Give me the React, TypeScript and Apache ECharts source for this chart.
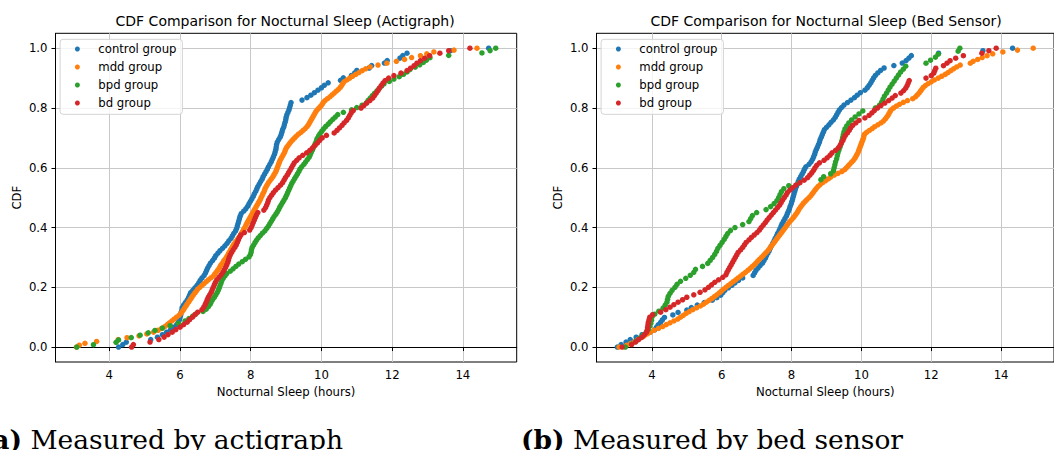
import React, { useEffect, useRef } from "react";
import * as echarts from "echarts";

// ---------- data (sleep hours per subject-night) ----------
const GROUP_NAMES = ["control group", "mdd group", "bpd group", "bd group"];
const GROUP_COLORS = ["#1f77b4", "#ff7f0e", "#2ca02c", "#d62728"];
const PANEL_TITLES = [
  "CDF Comparison for Nocturnal Sleep (Actigraph)",
  "CDF Comparison for Nocturnal Sleep (Bed Sensor)",
];
const X_AXIS_NAME = "Nocturnal Sleep (hours)";
const Y_AXIS_NAME = "CDF";
const CAPTIONS = [
  ["(a)", " Measured by actigraph"],
  ["(b)", " Measured by bed sensor"],
];
const Y_TICKS = [0, 0.2, 0.4, 0.6, 0.8, 1.0];

// Actigraph
const controlActi = [
  4.26, 4.38, 4.48, 5.17, 5.36, 5.5, 5.62, 5.73, 5.8, 5.9,
  5.95, 5.98, 6.0, 6.02, 6.03, 6.05, 6.06, 6.1, 6.15, 6.2,
  6.24, 6.27, 6.3, 6.36, 6.42, 6.48, 6.53, 6.57, 6.62, 6.68,
  6.72, 6.75, 6.78, 6.82, 6.86, 6.92, 6.97, 7.01, 7.07, 7.13,
  7.2, 7.27, 7.33, 7.38, 7.44, 7.48, 7.52, 7.57, 7.6, 7.62,
  7.64, 7.66, 7.68, 7.7, 7.73, 7.8, 7.86, 7.91, 7.95, 7.99,
  8.03, 8.07, 8.1, 8.14, 8.17, 8.2, 8.24, 8.28, 8.32, 8.35,
  8.39, 8.43, 8.47, 8.5, 8.54, 8.58, 8.61, 8.64, 8.67, 8.69,
  8.71, 8.72, 8.73, 8.75, 8.79, 8.83, 8.86, 8.88, 8.9, 8.93,
  8.95, 8.97, 8.99, 9.0, 9.02, 9.05, 9.08, 9.1, 9.12, 9.14,
  9.45, 9.59, 9.7, 9.8, 9.9, 10.0, 10.08, 10.19, 10.54, 10.62,
  10.85, 10.94, 11.0, 11.35, 11.42, 11.78, 11.86, 12.22, 12.3, 12.42,
  13.65, 14.73,
];
const mddActi = [
  3.07, 3.15, 3.31, 3.64, 4.25, 4.5, 4.84, 5.06, 5.25, 5.38,
  5.48, 5.57, 5.64, 5.7, 5.77, 5.83, 5.9, 5.97, 6.02, 6.06,
  6.1, 6.13, 6.17, 6.2, 6.24, 6.27, 6.31, 6.34, 6.38, 6.42,
  6.46, 6.5, 6.56, 6.62, 6.68, 6.74, 6.8, 6.87, 6.94, 6.98,
  7.02, 7.06, 7.1, 7.13, 7.16, 7.2, 7.23, 7.27, 7.31, 7.34,
  7.37, 7.4, 7.43, 7.46, 7.49, 7.52, 7.56, 7.6, 7.64, 7.68,
  7.71, 7.74, 7.77, 7.8, 7.83, 7.86, 7.88, 7.91, 7.94, 7.97,
  8.0, 8.03, 8.06, 8.09, 8.12, 8.15, 8.18, 8.21, 8.24, 8.27,
  8.29, 8.32, 8.34, 8.37, 8.39, 8.41, 8.44, 8.47, 8.5, 8.54,
  8.58, 8.62, 8.65, 8.68, 8.71, 8.73, 8.75, 8.77, 8.79, 8.81,
  8.83, 8.86, 8.89, 8.92, 8.95, 8.97, 8.99, 9.02, 9.06, 9.1,
  9.14, 9.19, 9.24, 9.29, 9.35, 9.42, 9.48, 9.54, 9.59, 9.63,
  9.66, 9.69, 9.72, 9.75, 9.78, 9.81, 9.84, 9.88, 9.93, 9.98,
  10.02, 10.05, 10.1, 10.17, 10.24, 10.3, 10.36, 10.42, 10.48, 10.53,
  10.57, 10.6, 10.64, 10.72, 10.8, 10.88, 10.97, 11.06, 11.15, 11.25,
  11.38, 11.6, 11.85, 12.12, 12.35, 12.55, 12.8, 12.98, 13.18, 13.75,
  14.4,
];
const bpdActi = [
  3.08, 3.55, 4.19, 4.26, 4.62, 4.87, 5.1, 5.29, 5.5, 5.72,
  5.95, 6.14, 6.25, 6.36, 6.45, 6.65, 6.74, 6.8, 6.85, 6.88,
  6.92, 6.97, 7.01, 7.05, 7.08, 7.11, 7.13, 7.16, 7.18, 7.22,
  7.27, 7.32, 7.42, 7.5, 7.58, 7.66, 7.76, 7.85, 7.95, 7.99,
  8.01, 8.02, 8.04, 8.08, 8.12, 8.16, 8.21, 8.27, 8.33, 8.4,
  8.45, 8.5, 8.54, 8.58, 8.62, 8.66, 8.71, 8.75, 8.79, 8.82,
  8.86, 8.9, 8.94, 8.98, 9.01, 9.04, 9.07, 9.1, 9.13, 9.16,
  9.2, 9.24, 9.28, 9.32, 9.36, 9.39, 9.44, 9.5, 9.55, 9.6,
  9.65, 9.68, 9.71, 9.74, 9.77, 9.8, 9.83, 9.86, 9.88, 9.92,
  9.96, 10.01, 10.06, 10.12, 10.19, 10.25, 10.32, 10.39, 10.46, 10.62,
  10.85, 11.0, 11.15, 11.27, 11.32, 11.38, 11.44, 11.5, 11.57, 11.63,
  11.7, 11.77, 11.92, 12.05, 12.2, 12.32, 12.42, 12.5, 12.65, 12.78,
  12.88, 12.97, 13.07, 13.6, 14.54, 14.77, 14.93,
];
const bdActi = [
  4.63, 4.68, 5.15, 5.4, 5.55, 5.66, 5.78, 5.88, 6.0, 6.1,
  6.2, 6.27, 6.35, 6.42, 6.5, 6.62, 6.67, 6.71, 6.74, 6.77,
  6.8, 6.84, 6.88, 6.91, 6.94, 6.97, 7.0, 7.04, 7.1, 7.16,
  7.21, 7.25, 7.29, 7.32, 7.35, 7.37, 7.39, 7.42, 7.46, 7.5,
  7.55, 7.59, 7.62, 7.65, 7.68, 7.72, 7.82, 7.97, 8.01, 8.04,
  8.07, 8.1, 8.13, 8.16, 8.2, 8.37, 8.42, 8.45, 8.48, 8.5,
  8.54, 8.59, 8.64, 8.7, 8.77, 8.84, 8.9, 8.94, 8.98, 9.03,
  9.07, 9.11, 9.15, 9.19, 9.23, 9.3, 9.37, 9.47, 9.58, 9.67,
  9.75, 9.82, 9.89, 9.95, 10.02, 10.14, 10.36, 10.44, 10.51, 10.58,
  10.64, 10.71, 10.76, 10.8, 10.84, 10.9, 11.12, 11.2, 11.28, 11.37,
  11.45, 11.5, 11.55, 11.6, 11.64, 11.69, 11.74, 11.8, 11.9, 12.05,
  12.25, 12.42, 12.52, 12.62, 12.7, 12.8, 12.92, 13.06, 13.35, 13.6,
  14.2,
];

// Bed sensor
const controlBed = [
  3.01, 3.12, 3.26, 3.38, 3.55, 3.72, 3.95, 4.08, 4.13, 4.18,
  4.25, 4.3, 4.36, 4.6, 4.75, 5.0, 5.13, 5.3, 5.5, 5.73,
  5.86, 5.97, 6.03, 6.09, 6.19, 6.29, 6.38, 6.48, 6.6, 6.9,
  6.94, 6.98, 7.04, 7.1, 7.17, 7.21, 7.25, 7.28, 7.32, 7.36,
  7.39, 7.42, 7.46, 7.5, 7.53, 7.57, 7.6, 7.64, 7.67, 7.7,
  7.73, 7.77, 7.81, 7.85, 7.88, 7.91, 7.94, 7.96, 7.99, 8.01,
  8.03, 8.05, 8.07, 8.09, 8.11, 8.14, 8.17, 8.19, 8.22, 8.26,
  8.3, 8.34, 8.37, 8.41, 8.5, 8.56, 8.6, 8.63, 8.66, 8.68,
  8.71, 8.74, 8.77, 8.8, 8.82, 8.85, 8.88, 8.91, 8.94, 9.0,
  9.07, 9.13, 9.2, 9.25, 9.29, 9.33, 9.37, 9.43, 9.5, 9.6,
  9.7, 9.8, 9.88, 9.97, 10.1, 10.17, 10.22, 10.27, 10.31, 10.35,
  10.4, 10.47, 10.55, 10.65, 10.93, 11.17, 11.28, 11.36, 11.43, 12.21,
  13.48, 14.33,
];
const mddBed = [
  3.06, 3.28, 3.4, 3.52, 3.6, 3.69, 3.78, 3.87, 3.96, 4.06,
  4.19, 4.31, 4.41, 4.52, 4.63, 4.74, 4.82, 4.9, 4.98, 5.07,
  5.17, 5.28, 5.39, 5.48, 5.56, 5.64, 5.72, 5.79, 5.86, 5.93,
  5.99, 6.05, 6.12, 6.19, 6.26, 6.33, 6.4, 6.47, 6.54, 6.61,
  6.68, 6.75, 6.81, 6.87, 6.93, 6.98, 7.03, 7.08, 7.14, 7.19,
  7.24, 7.29, 7.34, 7.38, 7.42, 7.46, 7.5, 7.54, 7.58, 7.62,
  7.66, 7.7, 7.74, 7.78, 7.82, 7.86, 7.9, 7.94, 7.99, 8.04,
  8.08, 8.12, 8.16, 8.19, 8.22, 8.26, 8.3, 8.34, 8.39, 8.44,
  8.5, 8.55, 8.59, 8.63, 8.67, 8.71, 8.76, 8.82, 8.89, 8.97,
  9.05, 9.12, 9.22, 9.33, 9.44, 9.52, 9.57, 9.62, 9.67, 9.72,
  9.77, 9.81, 9.84, 9.87, 9.9, 9.92, 9.94, 9.96, 9.98, 10.0,
  10.02, 10.04, 10.06, 10.07, 10.09, 10.15, 10.23, 10.31, 10.38, 10.47,
  10.56, 10.63, 10.68, 10.72, 10.76, 10.79, 10.82, 10.85, 10.92, 11.0,
  11.09, 11.2, 11.32, 11.47, 11.55, 11.6, 11.65, 11.69, 11.73, 11.77,
  11.83, 11.91, 12.0, 12.09, 12.2, 12.3, 12.4, 12.48, 12.56, 12.64,
  12.73, 12.83, 13.12, 13.2, 13.33, 13.46, 13.6, 13.76, 14.05, 14.47,
  14.92,
];
const bpdBed = [
  3.24, 3.42, 3.55, 3.65, 3.75, 3.84, 3.9, 3.94, 3.97, 3.99,
  4.0, 4.08, 4.2, 4.32, 4.38, 4.43, 4.45, 4.47, 4.52, 4.58,
  4.66, 4.72, 4.82, 4.97, 5.1, 5.2, 5.25, 5.45, 5.6, 5.67,
  5.74, 5.8, 5.85, 5.89, 5.95, 6.01, 6.07, 6.12, 6.17, 6.25,
  6.38, 6.6, 6.78, 6.83, 6.88, 7.0, 7.27, 7.4, 7.5, 7.58,
  7.63, 7.67, 7.71, 7.78, 7.92, 8.22, 8.84, 8.92, 9.12, 9.2,
  9.22, 9.24, 9.26, 9.29, 9.31, 9.33, 9.36, 9.39, 9.42, 9.44,
  9.46, 9.48, 9.5, 9.53, 9.58, 9.64, 9.72, 9.82, 9.93, 10.04,
  10.4, 10.52, 10.58, 10.62, 10.66, 10.72, 10.77, 10.82, 10.88, 10.94,
  11.0, 11.06, 11.12, 11.2, 11.27, 11.85, 11.98, 12.12, 12.2, 12.77,
  12.82,
];
const bdBed = [
  3.15, 3.42, 3.53, 3.62, 3.72, 3.79, 3.85, 3.87, 3.88, 3.89,
  3.9, 3.92, 3.94, 4.02, 4.25, 4.4, 4.52, 4.63, 4.75, 4.88,
  5.0, 5.2, 5.38, 5.52, 5.62, 5.71, 5.8, 5.91, 6.03, 6.12,
  6.15, 6.19, 6.23, 6.27, 6.31, 6.35, 6.39, 6.43, 6.47, 6.54,
  6.6, 6.65, 6.7, 6.78, 6.85, 6.93, 7.01, 7.08, 7.13, 7.19,
  7.25, 7.3, 7.36, 7.42, 7.48, 7.54, 7.6, 7.66, 7.7, 7.74,
  7.79, 7.84, 7.88, 7.95, 8.03, 8.12, 8.24, 8.36, 8.46, 8.52,
  8.58, 8.63, 8.67, 8.72, 8.8, 8.93, 9.02, 9.1, 9.16, 9.26,
  9.34, 9.39, 9.43, 9.47, 9.5, 9.54, 9.6, 9.65, 9.69, 9.75,
  9.84, 9.93, 10.1, 10.22, 10.3, 10.37, 10.46, 10.56, 10.67, 10.78,
  10.88, 10.97, 11.13, 11.21, 11.27, 11.31, 11.34, 11.37, 11.85, 12.0,
  12.07, 12.1, 12.13, 12.35, 12.45, 12.54, 12.7, 12.92, 13.45, 13.65,
  13.86,
];

const PANELS = [
  [controlActi, mddActi, bpdActi, bdActi],
  [controlBed, mddBed, bpdBed, bdBed],
];

// empirical CDF: sorted values against rank / (n - 1)
function ecdf(values: number[]): number[][] {
  const s = [...values].sort((a, b) => a - b);
  const n = s.length;
  return s.map((v, i) => [v, n > 1 ? i / (n - 1) : 1]);
}

// ---------- layout ----------
const GRIDS = [
  { left: 55.5, top: 33.3, width: 461.2, height: 328.7 },
  { left: 596.5, top: 33.3, width: 461.2, height: 328.7 },
];
const SANS = "'DejaVu Sans', sans-serif";
const SERIF = "'DejaVu Serif', serif";
const FS = 11.7;
const CAPTION_FS = 26.5;

export default function App() {
  const ref = useRef<HTMLDivElement>(null);

  useEffect(() => {
    if (!ref.current) return;
    const chart = echarts.init(ref.current, undefined, { renderer: "svg" });

    const xAxes: any[] = [];
    const yAxes: any[] = [];
    const series: any[] = [];
    const titles: any[] = [];
    const graphics: any[] = [];

    PANELS.forEach((groups, p) => {
      const all = groups.flat();
      const lo = Math.min(...all);
      const hi = Math.max(...all);
      const pad = (hi - lo) * 0.05;
      const xmin = lo - pad;
      const xmax = hi + pad;
      const xticks: number[] = [];
      for (let t = Math.ceil(xmin / 2) * 2; t <= xmax; t += 2) xticks.push(t);

      xAxes.push({
        type: "value",
        gridIndex: p,
        min: xmin,
        max: xmax,
        name: X_AXIS_NAME,
        nameLocation: "middle",
        nameGap: 23,
        nameTextStyle: { fontFamily: SANS, fontSize: FS, color: "#000" },
        axisLine: { show: true, lineStyle: { color: "#000", width: 1 } },
        axisTick: { show: true, length: 4, lineStyle: { color: "#000" }, customValues: xticks },
        axisLabel: {
          customValues: xticks,
          margin: 7,
          fontFamily: SANS,
          fontSize: FS,
          color: "#000",
          formatter: (v: number) => String(Math.round(v)),
        },
        splitLine: { show: true, lineStyle: { color: "#c8c8c8", width: 1 } },
      });
      yAxes.push({
        type: "value",
        gridIndex: p,
        min: -0.05,
        max: 1.05,
        name: Y_AXIS_NAME,
        nameLocation: "middle",
        nameGap: 33,
        nameTextStyle: { fontFamily: SANS, fontSize: FS, color: "#000" },
        axisLine: { show: true, lineStyle: { color: "#000", width: 1 } },
        axisTick: { show: true, length: 4, lineStyle: { color: "#000" }, customValues: Y_TICKS },
        axisLabel: {
          customValues: Y_TICKS,
          margin: 8,
          fontFamily: SANS,
          fontSize: FS,
          color: "#000",
          formatter: (v: number) => v.toFixed(1),
        },
        splitLine: { show: true, lineStyle: { color: "#c8c8c8", width: 1 } },
      });

      groups.forEach((vals, g) => {
        series.push({
          type: "scatter",
          name: GROUP_NAMES[g],
          xAxisIndex: p,
          yAxisIndex: p,
          data: ecdf(vals),
          symbol: "circle",
          symbolSize: 5.5,
          itemStyle: { color: GROUP_COLORS[g], opacity: 1 },
          silent: true,
          z: 2 + g,
        });
      });

      const grid = GRIDS[p];
      titles.push({
        text: PANEL_TITLES[p],
        left: grid.left + grid.width / 2 - 1,
        top: 14,
        textAlign: "center",
        padding: 0,
        textStyle: { fontFamily: SANS, fontSize: 14, fontWeight: "normal", color: "#000" },
      });

      // legend box (matplotlib style, upper left)
      const lx = grid.left + 4.6;
      const ly = 39.3;
      const children: any[] = [
        {
          type: "rect",
          shape: { x: lx, y: ly, width: 122.3, height: 75, r: 3 },
          style: { fill: "rgba(255,255,255,0.8)", stroke: "#d4d4d4", lineWidth: 1 },
          z: 100,
        },
      ];
      GROUP_NAMES.forEach((name, g) => {
        const cy = 49 + g * 18;
        children.push({
          type: "circle",
          shape: { cx: lx + 17.3, cy, r: 2.5 },
          style: { fill: GROUP_COLORS[g] },
          z: 101,
        });
        children.push({
          type: "text",
          x: lx + 38.2,
          y: cy,
          style: {
            text: name,
            fontFamily: SANS,
            fontSize: FS,
            fill: "#000",
            verticalAlign: "middle",
            align: "left",
          },
          z: 101,
        });
      });
      graphics.push({ type: "group", children });

      // sub-figure caption
      graphics.push({
        type: "text",
        x: p === 0 ? 343 : 521,
        y: 439,
        style: {
          text: `{b|${CAPTIONS[p][0]}}${CAPTIONS[p][1]}`,
          fontFamily: SERIF,
          fontSize: CAPTION_FS,
          fill: "#000",
          align: p === 0 ? "right" : "left",
          verticalAlign: "middle",
          rich: {
            b: { fontFamily: SERIF, fontSize: CAPTION_FS, fontWeight: "bold", fill: "#000" },
          },
        },
      });
    });

    chart.setOption({
      animation: false,
      backgroundColor: "#ffffff",
      title: titles,
      grid: GRIDS.map((g) => ({
        ...g,
        show: true,
        borderColor: "#000",
        borderWidth: 1,
        backgroundColor: "transparent",
        containLabel: false,
      })),
      xAxis: xAxes,
      yAxis: yAxes,
      series,
      graphic: graphics,
    });

    return () => chart.dispose();
  }, []);

  return (
    <div
      ref={ref}
      style={{ position: "absolute", left: 0, top: 0, width: 1054, height: 450, overflow: "hidden" }}
    />
  );
}
